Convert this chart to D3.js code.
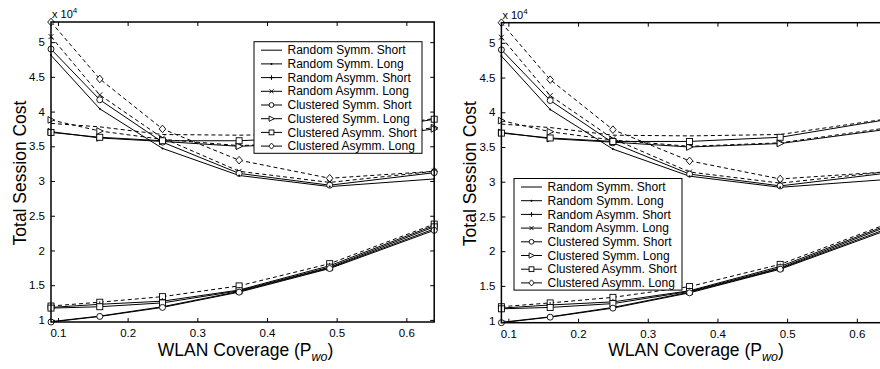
<!DOCTYPE html>
<html>
<head>
<meta charset="utf-8">
<script src="https://cdn.jsdelivr.net/npm/d3@7"></script>
<style>
  body { margin: 0; background: #fff; }
  svg { display: block; font-family: "Liberation Sans", Arial, sans-serif; }
</style>
</head>
<body>
<svg id="chart" width="880" height="369"></svg>
<script>
// x values: WLAN coverage
const coverage = [0.09, 0.16, 0.25, 0.36, 0.49, 0.64];

// total session cost, in units of 1e4
const highDashDiamond  = [5.29, 4.47, 3.75, 3.30, 3.04, 3.14];
const highDashCross    = [5.08, 4.24, 3.62, 3.14, 2.98, 3.14];
const highSolidCircle  = [4.90, 4.17, 3.56, 3.11, 2.94, 3.12];
const highSolidDot     = [4.81, 4.04, 3.47, 3.08, 2.92, 3.03];
const midDashTriangle  = [3.88, 3.72, 3.60, 3.51, 3.56, 3.77];
const midDashPlain     = [3.83, 3.78, 3.67, 3.66, 3.68, 3.90];
const midSolidTriangle = [3.71, 3.62, 3.57, 3.50, 3.55, 3.75];
const midSolidSquare   = [3.70, 3.63, 3.58, 3.58, 3.64, 3.89];
const lowDashSquare    = [1.20, 1.255, 1.335, 1.49, 1.81, 2.38];
const lowSolidPlus     = [1.18, 1.225, 1.27, 1.43, 1.78, 2.36];
const lowSolidSquare   = [1.17, 1.19, 1.245, 1.42, 1.76, 2.34];
const lowSolidCircle   = [0.97, 1.05, 1.18, 1.40, 1.74, 2.29];
const lowSolidPlain    = [0.975, 1.055, 1.19, 1.41, 1.75, 2.31];

const xTicks = [0.1, 0.2, 0.3, 0.4, 0.5, 0.6];
const yTicks = [1, 1.5, 2, 2.5, 3, 3.5, 4, 4.5, 5];

const legendLabels = [
  'Random Symm. Short', 'Random Symm. Long',
  'Random Asymm. Short', 'Random Asymm. Long',
  'Clustered Symm. Short', 'Clustered Symm. Long',
  'Clustered Asymm. Short', 'Clustered Asymm. Long'
];
const legendMarkers = ['none', 'dot', 'plus', 'cross', 'circle', 'triangle', 'square', 'diamond'];

// curve table: data + style
const curves = [
  { values: highDashDiamond, dash: true, marker: 'diamond' },
  { values: highDashCross, dash: true, marker: 'cross' },
  { values: highSolidCircle, dash: false, marker: 'circle' },
  { values: highSolidDot, dash: false, marker: 'dot' },
  { values: midDashTriangle, dash: true, marker: 'triangle' },
  { values: midDashPlain, dash: true, marker: 'none' },
  { values: midSolidTriangle, dash: false, marker: 'triangle' },
  { values: midSolidSquare, dash: false, marker: 'square' },
  { values: lowDashSquare, dash: true, marker: 'square' },
  { values: lowSolidPlus, dash: false, marker: 'plus' },
  { values: lowSolidSquare, dash: false, marker: 'square' },
  { values: lowSolidCircle, dash: false, marker: 'circle' },
  { values: lowSolidPlain, dash: false, marker: 'none' }
];

const allValues = curves.flatMap(c => c.values);
const yDomain = [d3.min(allValues), d3.max(allValues)];

const svg = d3.select('#chart');

function drawMarker(g, type, x, y, k = 1) {
  const s = 3 * k;
  if (type === 'none') return;
  let m;
  if (type === 'dot') {
    g.append('circle').attr('cx', x).attr('cy', y).attr('r', 1).attr('fill', '#000');
    return;
  } else if (type === 'circle') {
    m = g.append('circle').attr('cx', x).attr('cy', y).attr('r', s);
  } else if (type === 'square') {
    m = g.append('rect').attr('x', x - s).attr('y', y - s).attr('width', 2 * s).attr('height', 2 * s);
  } else if (type === 'diamond') {
    m = g.append('path').attr('d', `M${x},${y - 3.8 * k}L${x + 3.3 * k},${y}L${x},${y + 3.8 * k}L${x - 3.3 * k},${y}Z`);
  } else if (type === 'triangle') {
    m = g.append('path').attr('d', `M${x + 3.5 * k},${y}L${x - 3 * k},${y - 3.3 * k}L${x - 3 * k},${y + 3.3 * k}Z`);
  } else if (type === 'plus') {
    m = g.append('path').attr('d', `M${x - s},${y}H${x + s}M${x},${y - s}V${y + s}`);
  } else if (type === 'cross') {
    const c = 2.5 * k;
    m = g.append('path').attr('d', `M${x - c},${y - c}L${x + c},${y + c}M${x - c},${y + c}L${x + c},${y - c}`);
  }
  m.attr('stroke', '#000').attr('stroke-width', 0.9).attr('fill', '#fff');
}

function drawPanel(left, right, top, bottom, legendX, legendY) {
  const g = svg.append('g');

  const x = d3.scaleLinear().domain([coverage[0], coverage[coverage.length - 1]]).range([left, right]);
  const y = d3.scaleLinear().domain(yDomain).range([bottom, top]);

  // axes with inward ticks
  g.append('g').attr('transform', `translate(0,${bottom})`)
    .call(d3.axisBottom(x).tickValues(xTicks).tickSize(-4).tickSizeOuter(0).tickPadding(7).tickFormat(d3.format('.1f')))
    .call(a => a.select('.domain').remove());
  g.append('g').attr('transform', `translate(0,${top})`)
    .call(d3.axisTop(x).tickValues(xTicks).tickSize(-4).tickSizeOuter(0).tickFormat(''))
    .call(a => a.select('.domain').remove());
  g.append('g').attr('transform', `translate(${left},0)`)
    .call(d3.axisLeft(y).tickValues(yTicks).tickSize(-4).tickSizeOuter(0).tickPadding(6).tickFormat(d => d))
    .call(a => a.select('.domain').remove());
  g.append('g').attr('transform', `translate(${right},0)`)
    .call(d3.axisRight(y).tickValues(yTicks).tickSize(-4).tickSizeOuter(0).tickFormat(''))
    .call(a => a.select('.domain').remove());

  g.selectAll('.tick text').attr('font-size', 11.5).attr('fill', '#000')
    .attr('font-family', '"Liberation Sans", Arial, sans-serif');
  g.selectAll('.tick line').attr('stroke', '#000');

  // lines
  const line = d3.line().x((d, i) => x(coverage[i])).y(d => y(d));
  curves.forEach(c => {
    g.append('path').attr('d', line(c.values)).attr('fill', 'none')
      .attr('stroke', '#000').attr('stroke-width', 1)
      .attr('stroke-dasharray', c.dash ? '4,3' : null);
  });
  curves.forEach(c => {
    c.values.forEach((v, i) => drawMarker(g, c.marker, x(coverage[i]), y(v)));
  });

  // box
  g.append('rect').attr('x', left).attr('y', top).attr('width', right - left).attr('height', bottom - top)
    .attr('fill', 'none').attr('stroke', '#000').attr('stroke-width', 1.5);

  // exponent label
  const ex = g.append('text').attr('x', left + 1).attr('y', top - 4).attr('font-size', 11);
  ex.append('tspan').text('x 10');
  ex.append('tspan').attr('font-size', 8).attr('dy', -5).text('4');

  // axis titles
  const xt = g.append('text').attr('x', (left + right) / 2 + 3).attr('y', 356)
    .attr('text-anchor', 'middle').attr('font-size', 17.5);
  xt.append('tspan').text('WLAN Coverage (P');
  xt.append('tspan').attr('font-size', 12.5).attr('font-style', 'italic').attr('dy', 5).text('wo');
  xt.append('tspan').attr('dy', -5).text(')');

  g.append('text').attr('transform', `translate(${left - 25},${(top + bottom) / 2 + 1}) rotate(-90)`)
    .attr('text-anchor', 'middle').attr('font-size', 17.5).text('Total Session Cost');

  // legend
  const rowH = 13.7;
  const lw = 168, lh = 111.6;
  const lg = g.append('g').attr('transform', `translate(${legendX},${legendY})`);
  lg.append('rect').attr('width', lw).attr('height', lh).attr('fill', '#fff')
    .attr('stroke', '#000').attr('stroke-width', 1);
  legendLabels.forEach((lab, i) => {
    const cy = 8.5 + i * rowH;
    lg.append('line').attr('x1', 7).attr('x2', 28).attr('y1', cy).attr('y2', cy)
      .attr('stroke', '#000').attr('stroke-width', 1);
    drawMarker(lg, legendMarkers[i], 17.5, cy, 0.8);
    lg.append('text').attr('x', 33.5).attr('y', cy + 4.2).attr('font-size', 12).text(lab);
  });
}

drawPanel(51, 434.2, 22, 322, 254, 41.7);
drawPanel(501.4, 884.7, 22.7, 322.7, 514, 178.5);
</script>
</body>
</html>
